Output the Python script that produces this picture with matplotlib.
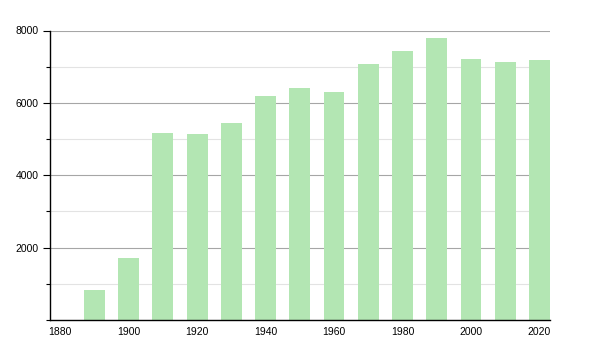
import matplotlib
matplotlib.use("Agg")
import matplotlib.pyplot as plt
from matplotlib.ticker import MultipleLocator

plt.rcParams['font.family'] = ['Liberation Sans', 'DejaVu Sans']

years = [1890, 1900, 1910, 1920, 1930, 1940, 1950, 1960, 1970, 1980, 1990, 2000, 2010, 2020]
population = [830, 1720, 5160, 5150, 5440, 6190, 6410, 6300, 7070, 7430, 7790, 7210, 7130, 7180]
xtick_years = [1880, 1900, 1920, 1940, 1960, 1980, 2000, 2020]
ytick_values = [2000, 4000, 6000, 8000]

bar_colour = "#b3e6b3"

fig = plt.figure(figsize=(6, 3.5), dpi=100)
ax = fig.add_axes([50/600, 30/350, 500/600, 289.5/350])

ax.bar(years, population, width=6.1, color=bar_colour, zorder=3)

ax.set_xlim(1877, 2023.1)
ax.set_ylim(0, 8000)

ax.set_xticks(xtick_years)
ax.set_xticklabels([str(y) for y in xtick_years], fontsize=7.5)
ax.tick_params(axis='x', length=0, pad=5)

ax.set_yticks(ytick_values)
ax.set_yticklabels([str(v) for v in ytick_values], fontsize=7.5)
ax.yaxis.set_minor_locator(MultipleLocator(1000))
ax.tick_params(axis='y', which='major', length=5, width=0.8, pad=3)
ax.tick_params(axis='y', which='minor', length=3, width=0.8)

ax.grid(axis='y', which='major', color='#a6a6a6', linewidth=0.8, zorder=1)
ax.grid(axis='y', which='minor', color='#e3e3e3', linewidth=0.8, zorder=1)

for side in ['top', 'right']:
    ax.spines[side].set_visible(False)
for side in ['left', 'bottom']:
    ax.spines[side].set_linewidth(1.0)
    ax.spines[side].set_zorder(4)

plt.savefig("out.png", dpi=100)
plt.close()
